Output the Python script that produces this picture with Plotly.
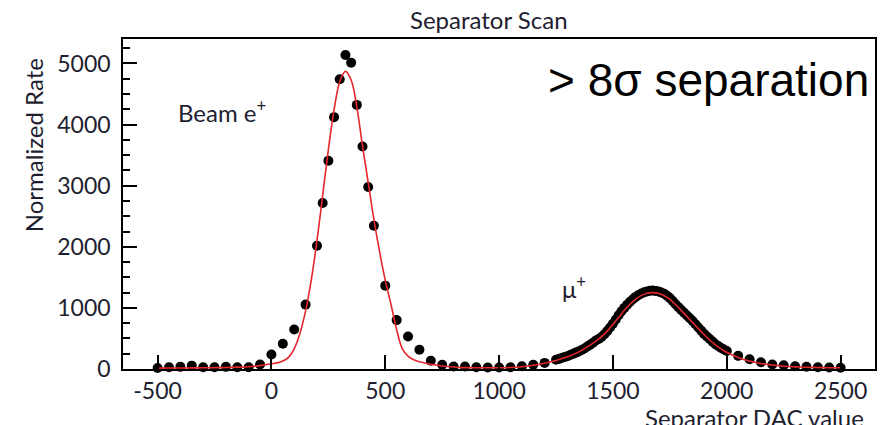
import plotly.graph_objects as go

# ---------------- data ----------------
scan_dac = [-500, -450, -400, -350, -300, -250, -200, -150, -100, -50,
            0, 50, 100, 150, 200, 225, 250, 275, 300, 325, 350, 375, 400, 425, 450,
            500, 550, 600, 650, 700, 750, 800, 850, 900, 950, 1000, 1050, 1100, 1150, 1200,
            1250, 1262.5, 1275, 1287.5, 1300, 1312.5, 1325, 1337.5, 1350, 1362.5, 1375, 1387.5,
            1400, 1412.5, 1425, 1437.5, 1450, 1462.5, 1475, 1487.5, 1500, 1512.5, 1525, 1537.5,
            1550, 1562.5, 1575, 1587.5, 1600, 1612.5, 1625, 1637.5, 1650, 1662.5, 1675, 1687.5,
            1700, 1712.5, 1725, 1737.5, 1750, 1762.5, 1775, 1787.5, 1800, 1812.5, 1825, 1837.5,
            1850, 1862.5, 1875, 1887.5, 1900, 1912.5, 1925, 1937.5, 1950, 1962.5, 1975, 1987.5,
            2000, 2050, 2100, 2150, 2200, 2250, 2300, 2350, 2400, 2450, 2500]
scan_rate = [15, 30, 35, 55, 30, 30, 35, 30, 30, 75,
             237, 412, 645, 1054, 2018, 2716, 3407, 4121, 4742, 5139, 5013, 4322, 3641, 2977, 2345,
             1364, 800, 533, 315, 136, 70, 42, 42, 30, 25, 25, 30, 45, 70, 100,
             150, 165, 180, 195, 210, 228, 248, 268, 288, 310, 335, 368,
             398, 430, 465, 492, 525, 570, 620, 680, 740, 810, 880, 945,
             1000, 1052, 1100, 1142, 1180, 1210, 1235, 1255, 1270, 1280, 1283, 1278,
             1268, 1252, 1230, 1198, 1160, 1112, 1060, 1012, 965, 920, 875, 830,
             785, 732, 680, 628, 575, 532, 490, 448, 405, 375, 345, 320,
             295, 215, 160, 110, 75, 60, 45, 38, 30, 25, 20]

fit_dac = [-500, -450, -400, -350, -300, -250, -200, -150, -100, -50,
           0, 25, 50, 75, 100, 125, 150, 175, 200, 225, 250, 275, 300, 325, 350, 375,
           400, 425, 450, 475, 500, 525, 550, 575, 600, 625, 650, 700, 750, 800, 850,
           900, 950, 1000, 1050, 1100, 1150, 1200, 1250, 1300, 1350, 1400, 1425, 1450,
           1475, 1500, 1525, 1550, 1575, 1600, 1625, 1650, 1675, 1700, 1725, 1750, 1775,
           1800, 1825, 1850, 1875, 1900, 1925, 1950, 1975, 2000, 2050, 2100, 2150, 2200,
           2250, 2300, 2350, 2400, 2450, 2500]
fit_rate = [15, 16, 17, 18, 20, 22, 25, 30, 38, 55,
            85, 100, 130, 190, 330, 580, 950, 1460, 2100, 2840, 3590, 4240, 4700, 4870, 4730, 4290,
            3650, 3050, 2450, 1920, 1450, 1060, 640, 330, 210, 150, 120, 78, 50, 32, 22,
            20, 20, 20, 25, 38, 60, 95, 140, 200, 280, 390, 455, 530,
            620, 730, 845, 960, 1060, 1145, 1205, 1240, 1250, 1238, 1200, 1140, 1055,
            960, 860, 760, 660, 565, 475, 395, 330, 275, 190, 130, 90, 65,
            45, 35, 28, 24, 21, 20]

x_ticks = [-500, 0, 500, 1000, 1500, 2000, 2500]
x_tick_text = ["-500", "0", "500", "1000", "1500", "2000", "2500"]
y_ticks = [0, 1000, 2000, 3000, 4000, 5000]

# ---------------- layout helpers ----------------
W, H = 881, 425
ML, MR, MT, MB = 123, 4, 39, 56
PW, PH = W - ML - MR, H - MT - MB


def px(x):
    return (x - ML) / PW


def py(y):
    return (H - MB - y) / PH


TXT = "#1e1e30"
FONT = "Lato"

fig = go.Figure()
fig.add_trace(go.Scatter(x=scan_dac, y=scan_rate, mode="markers",
                         marker=dict(color="black", size=10),
                         showlegend=False, cliponaxis=False))
fig.add_trace(go.Scatter(x=fit_dac, y=fit_rate, mode="lines",
                         line=dict(color="#e5262c", width=1.6, shape="spline"),
                         hoverinfo="skip", showlegend=False, cliponaxis=False))

fig.update_layout(
    width=W, height=H,
    margin=dict(l=ML, r=MR, t=MT, b=MB, pad=0),
    paper_bgcolor="white", plot_bgcolor="white",
    font=dict(family=FONT, color=TXT, size=23),
    xaxis=dict(range=[-652, 2651], tickvals=x_ticks, ticktext=x_tick_text,
               ticks="inside", ticklen=14,
               tickwidth=1.5, tickcolor="black", showgrid=False, zeroline=False,
               showline=True, linecolor="black", linewidth=1.6, mirror=True,
               tickfont=dict(family=FONT, size=23, color=TXT), ticklabelstandoff=1),
    yaxis=dict(range=[0, 5400], tickvals=y_ticks, ticks="inside", ticklen=14,
               tickwidth=1.5, tickcolor="black", showgrid=False, zeroline=False,
               showline=True, linecolor="black", linewidth=1.6, mirror=True,
               minor=dict(dtick=250, tick0=0, ticks="inside", ticklen=7,
                          tickwidth=1.5, tickcolor="black", showgrid=False),
               tickfont=dict(family=FONT, size=23, color=TXT), ticklabelstandoff=6),
)

ann = [
    dict(text="Separator Scan", x=px(490), y=py(20), font=dict(size=24)),
    dict(text="Normalized Rate", x=px(33), y=py(145), textangle=-90, font=dict(size=24)),
    dict(text="Separator DAC value", x=px(868), y=py(417), xanchor="right", font=dict(size=24)),
    dict(text="Beam e<sup>+</sup>", x=px(176), y=py(111), xanchor="left", font=dict(size=24)),
    dict(text="μ<sup>+</sup>", x=px(561), y=py(287), xanchor="left", font=dict(size=24)),
    dict(text="> 8σ separation", x=px(547), y=py(80), xanchor="left",
         font=dict(family="Liberation Sans, Arial", size=46, color="black")),
]
for a in ann:
    base = dict(xref="paper", yref="paper", showarrow=False, yanchor="middle",
                xanchor="center")
    base.update(a)
    fig.add_annotation(**base)

fig.write_html("out.html")
